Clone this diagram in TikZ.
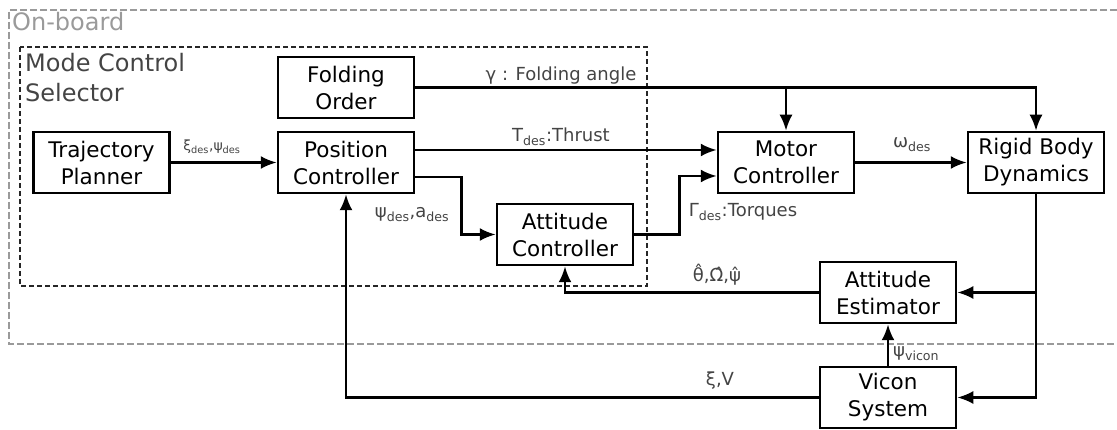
\documentclass[tikz,border=0pt]{standalone}
\usepackage{fontspec}
\setmainfont{DejaVu Sans}
\usetikzlibrary{arrows.meta,calc}
\definecolor{lbl}{HTML}{444444}
\definecolor{obgray}{HTML}{9A9A9A}
\tikzset{
  blk/.style={draw=black,line width=2.5pt,minimum width=136pt,minimum height=61pt,inner sep=0pt,align=center,font=\fontsize{21.5}{27}\selectfont},
  arr/.style={line width=2.5pt,-{Latex[length=16pt,width=13pt]}},
  lab/.style={text=lbl,inner sep=0pt,font=\fontsize{18}{20}\selectfont},
  smlab/.style={text=lbl,inner sep=0pt,font=\fontsize{14}{16}\selectfont},
  title/.style={inner sep=0pt,font=\fontsize{24}{30}\selectfont},
}
\newcommand{\sbs}[1]{\textsubscript{#1}}
\begin{document}
\begin{tikzpicture}[x=1pt,y=-1pt]
\useasboundingbox (0,0) rectangle (1117,430);
% on-board region
\draw[obgray,line width=2.2pt,dash pattern=on 7pt off 3pt] (1117,10) -- (9,10) -- (9,344) -- (1117,344);
\node[title,text=obgray,anchor=base west] (onb) at (12,31) {On-board};
% mode control selector region
\draw[black!85,line width=2.2pt,dash pattern=on 5pt off 3pt] (20,47) rectangle (647,286);
\node[title,text=lbl,anchor=base west] (mcs1) at (25,72) {Mode Control};
\node[title,text=lbl,anchor=base west] (mcs2) at (25,102) {Selector};
% blocks
\node[blk] (traj) at (101.5,162.5) {Trajectory\\Planner};
\node[blk] (fold) at (346,87.5) {Folding\\Order};
\node[blk] (pos) at (346,162.5) {Position\\Controller};
\node[blk] (motor) at (786,162.5) {Motor\\Controller};
\node[blk] (rigid) at (1036,162.5) {Rigid Body\\Dynamics};
\node[blk] (attc) at (565,234.5) {Attitude\\Controller};
\node[blk] (atte) at (888,292.5) {Attitude\\Estimator};
\node[blk] (vicon) at (888,397.5) {Vicon\\System};
% connectors
\draw[arr] (traj.east) -- (pos.west);
\draw[arr] (fold.east) -- (rigid.north |- fold.east) -- (rigid.north);
\draw[arr] (motor.north |- fold.east) -- (motor.north);
\draw[arr] ($(pos.east)+(0,-12.5)$) -- ($(motor.west)+(0,-12.5)$);
\draw[arr] ($(pos.east)+(0,14.5)$) -- ++(46,0) |- (attc.west);
\draw[arr] (attc.east) -- ++(45,0) |- ($(motor.west)+(0,13.5)$);
\draw[arr] (motor.east) -- (rigid.west);
\draw[arr] (rigid.south) -- (rigid.south |- vicon.east) -- (vicon.east);
\draw[arr] (rigid.south |- atte.east) -- (atte.east);
\draw[arr] (atte.west) -- (attc.south |- atte.west) -- (attc.south);
\draw[arr] (vicon.north) -- (atte.south);
\draw[arr] (vicon.west) -- (pos.south |- vicon.west) -- (pos.south);
% labels
\node[smlab,anchor=base] (l1) at (212,151) {ξ\sbs{des},ψ\sbs{des}};
\node[lab,anchor=base] (l2) at (561,81) {γ : Folding angle};
\node[lab,anchor=base] (l3) at (561,142) {T\sbs{des}:Thrust};
\node[lab,anchor=base] (l4) at (412,218) {ψ\sbs{des},a\sbs{des}};
\node[lab,anchor=base] (l5) at (743,217) {Γ\sbs{des}:Torques};
\node[lab,anchor=base] (l6) at (912,148) {ω\sbs{des}};
\node[lab,anchor=base] (l7) at (717,282) {θ̂,Ω̂,ψ̂};
\node[lab,anchor=base west] (l8) at (893,357) {ψ\sbs{vicon}};
\node[lab,anchor=base] (l9) at (720,385) {ξ,V};
\end{tikzpicture}
\end{document}
